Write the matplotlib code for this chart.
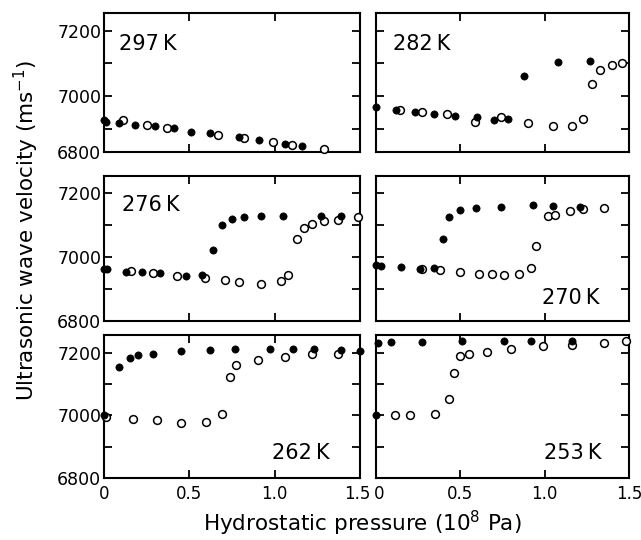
import matplotlib
matplotlib.use("Agg")
import matplotlib.pyplot as plt
import matplotlib.transforms as mtransforms
from matplotlib.ticker import FixedLocator, FixedFormatter

plt.rcParams['font.family'] = ['DejaVu Sans']

# ---------------- data (pressure in 1e8 Pa, velocity in m/s) ----------------
temps = ["297 K", "282 K", "276 K", "270 K", "262 K", "253 K"]

p297_f = [0.0, 0.01, 0.09, 0.18, 0.30, 0.41, 0.51, 0.62, 0.79, 0.91, 1.06, 1.16]
v297_f = [6925, 6920, 6916, 6912, 6908, 6901, 6890, 6885, 6874, 6865, 6854, 6846]
p297_o = [0.11, 0.25, 0.37, 0.67, 0.82, 0.99, 1.10, 1.29]
v297_o = [6925, 6912, 6903, 6880, 6870, 6859, 6851, 6836]

p282_f = [0.0, 0.12, 0.23, 0.345, 0.47, 0.60, 0.70, 0.78, 0.88, 1.08, 1.27]
v282_f = [6965, 6958, 6952, 6945, 6939, 6934, 6927, 6930, 7061, 7105, 7107]
p282_o = [0.14, 0.27, 0.42, 0.585, 0.74, 0.90, 1.05, 1.16, 1.23, 1.28, 1.33, 1.40, 1.46]
v282_o = [6958, 6952, 6944, 6920, 6935, 6916, 6908, 6909, 6929, 7038, 7080, 7095, 7100]

p276_f = [0.0, 0.02, 0.13, 0.22, 0.33, 0.48, 0.575, 0.64, 0.69, 0.75, 0.82, 0.92, 1.05, 1.27, 1.39]
v276_f = [6961, 6961, 6954, 6952, 6949, 6941, 6943, 7023, 7101, 7119, 7125, 7127, 7129, 7128, 7127]
p276_o = [0.16, 0.29, 0.43, 0.59, 0.71, 0.79, 0.92, 1.04, 1.08, 1.13, 1.17, 1.22, 1.29, 1.37, 1.49]
v276_o = [6957, 6949, 6942, 6934, 6927, 6921, 6917, 6924, 6943, 7055, 7090, 7103, 7111, 7117, 7125]

p270_f = [0.0, 0.03, 0.15, 0.26, 0.345, 0.40, 0.435, 0.50, 0.59, 0.74, 0.93, 1.05, 1.21]
v270_f = [6974, 6971, 6968, 6963, 6965, 7056, 7126, 7148, 7153, 7156, 7161, 7158, 7157]
p270_o = [0.27, 0.38, 0.50, 0.61, 0.69, 0.76, 0.85, 0.92, 0.95, 1.02, 1.06, 1.15, 1.23, 1.35]
v270_o = [6962, 6958, 6952, 6948, 6948, 6943, 6946, 6967, 7035, 7127, 7132, 7143, 7150, 7152]

p262_f = [0.0, 0.085, 0.15, 0.20, 0.29, 0.45, 0.62, 0.77, 0.975, 1.11, 1.23, 1.39, 1.50]
v262_f = [7002, 7156, 7185, 7193, 7195, 7205, 7210, 7211, 7211, 7211, 7211, 7209, 7206]
p262_o = [0.01, 0.17, 0.31, 0.45, 0.60, 0.69, 0.74, 0.775, 0.90, 1.06, 1.22, 1.37]
v262_o = [6995, 6988, 6984, 6975, 6978, 7004, 7124, 7161, 7177, 7187, 7196, 7197]

p253_f = [0.0, 0.01, 0.09, 0.27, 0.51, 0.76, 0.92, 1.16]
v253_f = [7002, 7232, 7234, 7234, 7238, 7238, 7238, 7238]
p253_o = [0.11, 0.20, 0.35, 0.43, 0.46, 0.50, 0.55, 0.66, 0.80, 0.99, 1.16, 1.35, 1.48]
v253_o = [7000, 7000, 7003, 7053, 7135, 7189, 7196, 7204, 7213, 7221, 7224, 7230, 7238]

filled_p = [p297_f, p282_f, p276_f, p270_f, p262_f, p253_f]
filled_v = [v297_f, v282_f, v276_f, v270_f, v262_f, v253_f]
open_p = [p297_o, p282_o, p276_o, p270_o, p262_o, p253_o]
open_v = [v297_o, v282_o, v276_o, v270_o, v262_o, v253_o]

xticks = [0, 0.5, 1.0, 1.5]
xticklabels = ["0", "0.5", "1.0", "1.5"]
yticklabels = ["6800", "", "7000", "", "7200"]

xlabel = "Hydrostatic pressure (10$^8$ Pa)"
ylabel = "Ultrasonic wave velocity (ms$^{-1}$)"

# ---------------- layout (pixel boxes) ----------------
W, H = 641, 540
fig = plt.figure(figsize=(W / 100, H / 100), dpi=100)

cols = [(104, 360), (376, 629)]
rows = [(13, 152), (176, 321), (335, 478)]
ylims = [(6828, 7255), (6800, 7253), (6800, 7257)]

label_pos = [
    (0.06, 0.78, "left"), (0.067, 0.78, "left"),
    (0.07, 0.80, "left"), (0.885, 0.16, "right"),
    (0.883, 0.175, "right"), (0.893, 0.175, "right"),
]

for i in range(6):
    r, c = divmod(i, 2)
    x0, x1 = cols[c]
    y0, y1 = rows[r]
    ax = fig.add_axes([x0 / W, 1 - y1 / H, (x1 - x0) / W, (y1 - y0) / H])
    ax.plot(open_p[i], open_v[i], 'o', ms=5.6, mfc='white', mec='black', mew=1.1, clip_on=False, zorder=3)
    ax.plot(filled_p[i], filled_v[i], 'o', ms=5.2, mfc='black', mec='black', mew=0.5, clip_on=False, zorder=4)
    ax.set_xlim(0, 1.5)
    ylo, yhi = ylims[r]
    ax.set_ylim(ylo, yhi)
    for s in ax.spines.values():
        s.set_linewidth(1.5)
    ax.tick_params(direction='in', length=6, width=1.3, top=True, right=True,
                   labelsize=12.5, pad=3)
    ax.xaxis.set_major_locator(FixedLocator(xticks))
    if r == 2:
        ax.xaxis.set_major_formatter(FixedFormatter(xticklabels))
        ax.tick_params(axis='x', pad=5, labelsize=12)
    else:
        ax.tick_params(axis='x', labelbottom=False)
    yt = [ylo, 6900, 7000, 7100, 7200]
    ax.yaxis.set_major_locator(FixedLocator(yt))
    if c == 0:
        ax.yaxis.set_major_formatter(FixedFormatter(yticklabels))
        ax.tick_params(axis='y', pad=2)
    else:
        ax.tick_params(axis='y', labelleft=False)
    if r == 2:
        ticks = ax.xaxis.get_major_ticks()
        if c == 0:
            lbl = ticks[-1].label1
            lbl.set_transform(lbl.get_transform() + mtransforms.ScaledTranslation(-3 / 100, 0, fig.dpi_scale_trans))
        else:
            lbl = ticks[0].label1
            lbl.set_transform(lbl.get_transform() + mtransforms.ScaledTranslation(3 / 100, 0, fig.dpi_scale_trans))
    lx, ly, ha = label_pos[i]
    ax.text(lx, ly, temps[i].replace(" ", "\u2009"), transform=ax.transAxes, ha=ha, va='center', fontsize=15)

fig.text(362 / W, 1 - 523 / H, xlabel, ha='center', va='center', fontsize=15.5)
fig.text(26 / W, 1 - 230 / H, ylabel, ha='center', va='center', rotation=90, fontsize=15.5)

fig.savefig("out.png", dpi=100)
